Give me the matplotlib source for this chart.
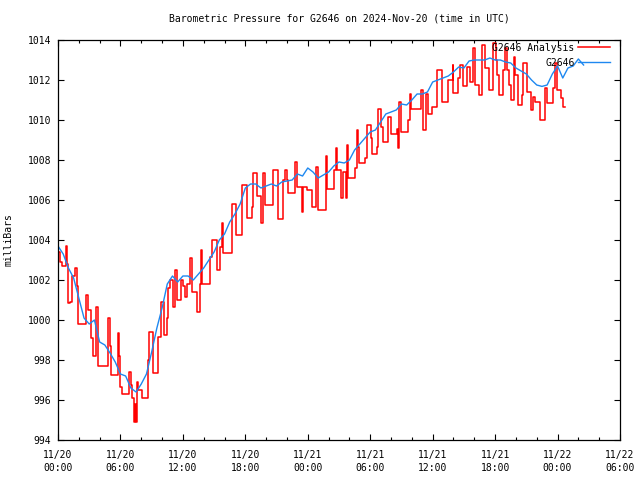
import matplotlib
matplotlib.use("Agg")
import matplotlib.pyplot as plt

# hours since 2024-11-20 00:00 UTC
blue_hours = [0.0, 0.5, 1.0, 1.5, 2.0, 2.5, 3.0, 3.5, 4.0, 4.5,
              5.0, 5.5, 6.0, 6.5, 7.0, 7.5, 8.0, 8.5, 9.0, 9.5,
              10.0, 10.5, 11.0, 11.5, 12.0, 12.5, 13.0, 13.5, 14.0, 14.5,
              15.0, 15.5, 16.0, 16.5, 17.0, 17.5, 18.0, 18.5, 19.0, 19.5,
              20.0, 20.5, 21.0, 21.5, 22.0, 22.5, 23.0, 23.5, 24.0, 24.5,
              25.0, 25.5, 26.0, 26.5, 27.0, 27.5, 28.0, 28.5, 29.0, 29.5,
              30.0, 30.5, 31.0, 31.5, 32.0, 32.5, 33.0, 33.5, 34.0, 34.5,
              35.0, 35.5, 36.0, 36.5, 37.0, 37.5, 38.0, 38.5, 39.0, 39.5,
              40.0, 40.5, 41.0, 41.5, 42.0, 42.5, 43.0, 43.5, 44.0, 44.5,
              45.0, 45.5, 46.0, 46.5, 47.0, 47.5, 48.0, 48.5, 49.0, 49.5,
              50.0, 50.5]
blue_mb = [1003.7, 1003.3, 1002.6, 1002.1, 1001.1, 1000.1, 999.8, 1000.0, 998.9, 998.75,
           998.35, 997.9, 997.3, 997.2, 996.6, 996.4, 996.8, 997.3, 998.4, 999.6,
           1000.6, 1001.8, 1002.2, 1001.9, 1002.2, 1002.2, 1002.0, 1002.3, 1002.6, 1003.0,
           1003.4, 1004.0, 1004.3, 1004.9, 1005.3, 1005.8, 1006.6, 1006.8, 1006.8, 1006.6,
           1006.7, 1006.8, 1006.7, 1006.9, 1006.95, 1007.0, 1007.3, 1007.2, 1007.6, 1007.4,
           1007.1, 1007.25, 1007.4, 1007.7, 1007.9, 1007.85, 1008.0, 1008.5, 1008.8, 1009.1,
           1009.4, 1009.5, 1009.9, 1010.3, 1010.4, 1010.5, 1010.8, 1010.75, 1011.0, 1011.3,
           1011.3, 1011.4, 1011.9, 1012.0, 1012.1, 1012.2, 1012.4, 1012.65, 1012.6, 1012.95,
           1013.0, 1013.0, 1013.0, 1013.1, 1013.0, 1013.0, 1012.9, 1012.85, 1012.6, 1012.45,
           1012.3, 1012.0, 1011.75, 1011.68, 1011.75, 1012.3, 1012.7, 1012.1, 1012.6, 1012.7,
           1013.05, 1012.75]

red_hours = [0.0, 0.2, 0.35, 0.74, 0.84, 0.99, 1.15, 1.37, 1.63, 1.8,
             1.95, 2.69, 2.91, 3.14, 3.39, 3.65, 3.81, 3.87, 4.77, 5.0,
             5.09, 5.74, 5.86, 5.96, 6.12, 6.82, 7.01, 7.14, 7.3, 7.4,
             7.49, 7.62, 7.69, 8.04, 8.62, 8.77, 9.16, 9.58, 9.9, 10.21,
             10.45, 10.6, 10.76, 11.08, 11.24, 11.41, 11.79, 12.04, 12.2, 12.37,
             12.68, 12.85, 13.33, 13.64, 13.71, 13.79, 14.61, 14.77, 15.25, 15.57,
             15.73, 15.88, 16.75, 17.1, 17.65, 18.13, 18.61, 18.77, 19.09, 19.51,
             19.65, 19.73, 19.89, 20.69, 21.17, 21.65, 21.81, 21.98, 22.13, 22.77,
             22.94, 23.42, 23.57, 23.9, 24.38, 24.79, 25.01, 25.75, 25.88, 26.52,
             26.71, 26.81, 27.16, 27.41, 27.67, 27.74, 27.9, 28.54, 28.76, 28.86,
             28.95, 29.5, 29.66, 30.05, 30.14, 30.62, 30.78, 31.01, 31.26, 31.74,
             31.97, 32.55, 32.7, 32.8, 32.96, 33.66, 33.82, 33.92, 34.88, 35.04,
             35.36, 35.55, 35.91, 36.39, 36.87, 37.5, 37.92, 37.98, 38.46, 38.63,
             38.89, 39.33, 39.59, 39.85, 40.07, 40.48, 40.71, 41.03, 41.44, 41.77,
             42.09, 42.15, 42.4, 42.79, 42.95, 43.19, 43.37, 43.5, 43.82, 43.91,
             44.23, 44.56, 44.71, 45.04, 45.42, 45.61, 45.83, 46.32, 46.8, 46.96,
             47.59, 47.76, 47.98, 48.3, 48.55, 48.75]
red_mb = [1003.4, 1002.9, 1002.7, 1003.7, 1002.8, 1000.85, 1000.9, 1002.2, 1002.6, 1001.7,
          999.8, 1001.25, 1000.5, 999.1, 998.2, 1000.65, 998.75, 997.7, 1000.1, 998.7,
          997.25, 999.35, 998.2, 996.65, 996.3, 997.4, 996.75, 996.1, 994.9, 995.8,
          994.9, 996.9, 996.5, 996.1, 998.0, 999.4, 997.35, 999.15, 1000.9, 999.25,
          1000.1, 1001.6, 1002.0, 1000.65, 1002.5, 1001.0, 1002.0, 1001.7, 1001.15, 1001.8,
          1003.1, 1001.4, 1000.4, 1001.8, 1003.5, 1001.8, 1003.15, 1004.0, 1002.5, 1003.65,
          1004.85, 1003.35, 1005.8, 1004.25, 1006.75, 1005.1, 1005.65, 1007.35, 1006.2, 1004.85,
          1006.2, 1007.35, 1005.75, 1007.5, 1005.05, 1007.0, 1007.5, 1007.0, 1006.35, 1007.9,
          1006.65, 1005.4, 1006.65, 1006.5, 1005.65, 1007.65, 1005.5, 1008.2, 1006.55, 1007.5,
          1008.6, 1007.5, 1006.1, 1007.4, 1006.1, 1008.75, 1007.1, 1007.6, 1009.5, 1008.65,
          1007.85, 1008.1, 1009.75, 1009.1, 1008.3, 1008.65, 1010.55, 1009.65, 1008.9, 1010.15,
          1009.3, 1009.55, 1008.6, 1010.9, 1009.4, 1010.0, 1011.3, 1010.55, 1011.5, 1009.5,
          1011.3, 1010.3, 1010.65, 1012.5, 1010.9, 1012.0, 1012.75, 1011.33, 1012.1, 1012.75,
          1011.7, 1012.65, 1011.9, 1013.6, 1011.75, 1011.25, 1013.75, 1012.6, 1011.5, 1013.85,
          1013.0, 1012.25, 1011.25, 1012.5, 1013.6, 1012.5, 1011.75, 1011.0, 1013.15, 1012.25,
          1010.75, 1011.25, 1012.85, 1011.4, 1010.5, 1011.15, 1010.9, 1010.0, 1011.6, 1010.85,
          1011.6, 1012.85, 1011.5, 1011.1, 1010.65, 1010.65]

tick_hours = [0, 6, 12, 18, 24, 30, 36, 42, 48, 54]
tick_labels = ["11/20\n00:00", "11/20\n06:00", "11/20\n12:00", "11/20\n18:00",
               "11/21\n00:00", "11/21\n06:00", "11/21\n12:00", "11/21\n18:00",
               "11/22\n00:00", "11/22\n06:00"]

plt.rcParams['font.family'] = ['DejaVu Sans Mono']
plt.rcParams['font.size'] = 7

fig = plt.figure(figsize=(6.4, 4.8), dpi=100)
ax = fig.add_axes([58 / 640, 40 / 480, 562 / 640, 400 / 480])

ax.plot(red_hours, red_mb, color='#ff0000', lw=1.1, drawstyle='steps-post',
        label='G2646 Analysis')
ax.plot(blue_hours, blue_mb, color='#1e88f0', lw=1.0, label='G2646')

ax.set_xlim(0, 54)
ax.set_ylim(994, 1014)
ax.set_yticks(range(994, 1015, 2))
ax.set_xticks(tick_hours)
ax.set_xticklabels(tick_labels, linespacing=1.35)
ax.set_xticks(range(0, 55, 2), minor=True)
ax.tick_params(which='both', direction='in', top=True, right=True, width=0.8)
ax.tick_params(which='major', length=4.5)
ax.tick_params(which='minor', length=2.5)
ax.tick_params(axis='x', pad=7)
ax.tick_params(axis='y', pad=5)
for s in ax.spines.values():
    s.set_linewidth(0.9)

ax.set_title("Barometric Pressure for G2646 on 2024-Nov-20 (time in UTC)",
             fontsize=7, pad=13)
ax.set_ylabel("milliBars")
ax.yaxis.set_label_coords(-44 / 562, 0.5)

ax.legend(loc='upper right', bbox_to_anchor=(552 / 562, 0.993),
          frameon=False, markerfirst=False, borderpad=0, borderaxespad=0,
          handlelength=3.3, handletextpad=0.35, labelspacing=0.5)

fig.savefig("out.png", dpi=100)
